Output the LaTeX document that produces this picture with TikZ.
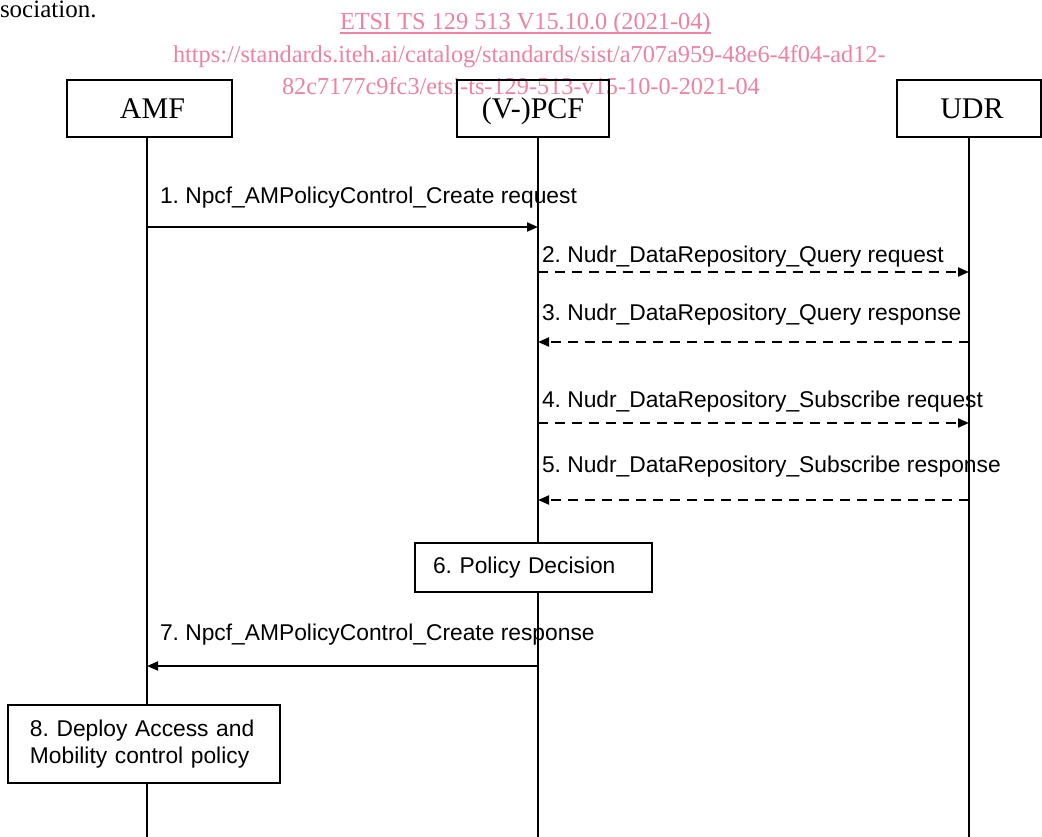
\documentclass[tikz,border=0pt]{standalone}
\usepackage{fontspec}
\setmainfont{Liberation Serif}
\newfontfamily\arialfont{Liberation Sans}
\usetikzlibrary{arrows.meta}
\definecolor{wmpink}{RGB}{238,130,160}
\frenchspacing

\begin{document}
\begin{tikzpicture}[x=1pt,y=-1pt,
  every node/.style={inner sep=0pt, outer sep=0pt},
  entity/.style={draw, line width=2pt, minimum height=57pt,
    text height=20pt, text depth=0pt, font=\fontsize{30}{36}\selectfont},
  life/.style={line width=2pt},
  msg/.style={line width=2pt, -{Triangle[length=11pt,width=9pt]}},
  reply/.style={msg, dash pattern=on 10pt off 7pt},
  lbl/.style={anchor=base west, font=\arialfont\fontsize{22.8}{27}\selectfont},
  stepbox/.style={draw, line width=2pt, align=left,
    font=\arialfont\fontsize{22.8}{27}\selectfont},
  wm/.style={anchor=base west, text=wmpink, font=\fontsize{24.3}{29}\selectfont}]

\useasboundingbox (0,0) rectangle (1042,837);
\clip (0,0) rectangle (1042,837);

% running text and header lines
\node[anchor=base west, font=\fontsize{25}{30}\selectfont] (prev) at (0,18) {sociation.};
\node[wm] (ref) at (340,30) {ETSI TS 129 513 V15.10.0 (2021-04)};
\draw[wmpink, line width=1.1pt] ([yshift=-3pt]ref.base west) -- ([yshift=-3pt]ref.base east);
\node[wm] (url1) at (173,63) {https://standards.iteh.ai/catalog/standards/sist/a707a959-48e6-4f04-ad12-};
\node[wm] (url2) at (282,95) {82c7177c9fc3/etsi-ts-129-513-v15-10-0-2021-04};

% entities
\node[entity, minimum width=165pt] (amf) at (149.5,108.5) {\hspace{6pt}AMF};
\node[entity, minimum width=152pt] (pcf) at (533,108.5) {(V-)PCF};
\node[entity, minimum width=144pt] (udr) at (969,108.5) {\hspace{6pt}UDR};

% lifeline feet
\coordinate (amfL) at (147,837);
\coordinate (pcfL) at (538,837);
\coordinate (udrL) at (969,837);

% local actions
\node[stepbox, minimum width=237pt, minimum height=49pt, text width=201pt,
  inner xsep=18pt, text height=16pt, text depth=5pt] (pd) at (533.5,567.5)
  {6. Policy Decision};
\node[stepbox, minimum width=272pt, minimum height=78pt, text width=234pt,
  inner xsep=19pt] (deploy) at (144,744)
  {\hspace{3pt}8. Deploy Access and\\\hspace*{3pt}Mobility control policy};

% lifelines
\draw[life] (amfL |- amf.south) -- (amfL |- deploy.north);
\draw[life] (amfL |- deploy.south) -- (amfL);
\draw[life] (pcfL |- pcf.south) -- (pcfL |- pd.north);
\draw[life] (pcfL |- pd.south) -- (pcfL);
\draw[life] (udrL |- udr.south) -- (udrL);

% message rows
\coordinate (m1) at (0,227);
\coordinate (m2) at (0,272);
\coordinate (m3) at (0,342);
\coordinate (m4) at (0,423);
\coordinate (m5) at (0,500);
\coordinate (m7) at (0,666);

\draw[msg]   (amfL |- m1) -- (pcfL |- m1);
\draw[reply] (pcfL |- m2) -- (udrL |- m2);
\draw[reply] (udrL |- m3) -- (pcfL |- m3);
\draw[reply] (pcfL |- m4) -- (udrL |- m4);
\draw[reply] (udrL |- m5) -- (pcfL |- m5);
\draw[msg]   (pcfL |- m7) -- (amfL |- m7);

% message labels
\node[lbl] (l1) at (160,204) {1. Npcf\_AMPolicyControl\_Create request};
\node[lbl] (l2) at (542,262) {2. Nudr\_DataRepository\_Query request};
\node[lbl] (l3) at (542,320) {3. Nudr\_DataRepository\_Query response};
\node[lbl] (l4) at (542,407) {4. Nudr\_DataRepository\_Subscribe request};
\node[lbl] (l5) at (542,472) {5. Nudr\_DataRepository\_Subscribe response};
\node[lbl] (l7) at (160,640) {7. Npcf\_AMPolicyControl\_Create response};
\end{tikzpicture}
\end{document}
